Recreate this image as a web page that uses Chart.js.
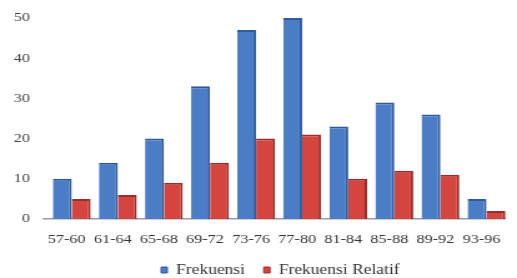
<!DOCTYPE html>
<html>
<head>
<meta charset="utf-8">
<script src="https://cdn.jsdelivr.net/npm/chart.js@4/dist/chart.umd.min.js"></script>
<style>
  html, body { margin: 0; padding: 0; background: #fff; }
  /* the reference is a horizontally stretched picture, so draw narrower and stretch */
  #chart { display: block; }
</style>
</head>
<body>
<canvas id="chart" width="414" height="278" style="width:517px;height:278px"></canvas>
<script>
const categories = ["57-60", "61-64", "65-68", "69-72", "73-76", "77-80", "81-84", "85-88", "89-92", "93-96"];
const frekuensi = [10, 14, 20, 33, 47, 50, 23, 29, 26, 5];
const frekuensiRelatif = [5, 6, 9, 14, 20, 21, 10, 12, 11, 2];
const yTicks = [0, 10, 20, 30, 40, 50];

const ctx = document.getElementById("chart").getContext("2d");

// legend sits centred under the plot area, a bit lower than Chart.js puts it
const moveLegend = {
  id: "moveLegend",
  afterLayout(chart) {
    const lg = chart.legend;
    const dx = 20;
    const h = lg.height;
    lg.left += dx;
    lg.right += dx;
    lg.top = 248;
    lg.bottom = lg.top + h;
  },
};

// the 3d bars in the original lean a little to the right of their labels
const barShift = {
  id: "barShift",
  beforeDatasetsDraw(chart) {
    chart.ctx.save();
    chart.ctx.translate(4, 0);
  },
  afterDatasetsDraw(chart) {
    chart.ctx.restore();
  },
};

new Chart(ctx, {
  type: "bar",
  data: {
    labels: categories,
    datasets: [
      {
        label: "Frekuensi",
        data: frekuensi,
        backgroundColor: "#4a7dc6",
        borderColor: "#2f5b9c",
        borderWidth: { right: 2, top: 2 },
        borderSkipped: "bottom",
      },
      {
        label: "Frekuensi Relatif",
        data: frekuensiRelatif,
        backgroundColor: "#d4453f",
        borderColor: "#9e2c28",
        borderWidth: { right: 2, top: 2 },
        borderSkipped: "bottom",
      },
    ],
  },
  plugins: [moveLegend, barShift],
  options: {
    responsive: false,
    devicePixelRatio: 1,
    animation: false,
    layout: { padding: { top: 18, right: 5, left: 0, bottom: -12 } },
    datasets: {
      bar: { categoryPercentage: 0.82, barPercentage: 1 },
    },
    plugins: {
      legend: {
        position: "bottom",
        labels: {
          font: { family: "Liberation Serif", size: 14 },
          color: "#333",
          boxWidth: 5,
          boxHeight: 6,
          padding: 15,
        },
      },
      tooltip: { enabled: false },
    },
    scales: {
      x: {
        afterFit: (axis) => {
          axis.height = 32;
        },
        grid: { display: false, drawTicks: false },
        border: { color: "#9a9aa6", width: 1.5 },
        ticks: {
          font: { family: "Liberation Serif", size: 13 },
          color: "#333",
          padding: 13,
          maxRotation: 0,
        },
      },
      y: {
        min: 0,
        max: 50,
        afterBuildTicks: (axis) => {
          axis.ticks = yTicks.map((v) => ({ value: v }));
        },
        afterFit: (axis) => {
          axis.width = 35;
          axis.paddingTop = 0;
          axis.paddingBottom = 0;
        },
        grid: { display: false, drawTicks: false },
        border: { display: false },
        ticks: {
          font: { family: "Liberation Serif", size: 13 },
          color: "#444",
          padding: 11,
        },
      },
    },
  },
});
</script>
</body>
</html>
